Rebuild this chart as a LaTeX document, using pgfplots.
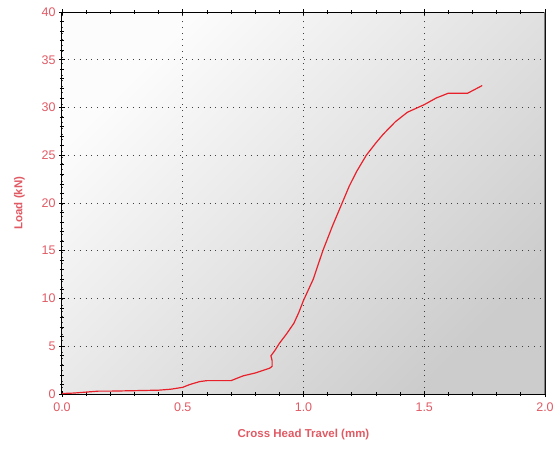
\documentclass[border=0pt]{standalone}
\usepackage{pgfplots}
\pgfplotsset{compat=1.18}
\usepackage{fontspec}
\setmainfont{Liberation Sans}
\definecolor{lblred}{HTML}{E05A64}
\definecolor{curve}{HTML}{E8202A}
\begin{document}
\begin{tikzpicture}[x=1pt,y=1pt]
\path[use as bounding box] (0,0) rectangle (557,448);
\begin{axis}[
	at={(62pt,54pt)},
	anchor=south west,
	scale only axis,
	width=483pt,
	height=382pt,
	xmin=0, xmax=2,
	ymin=0, ymax=40,
	xtick={0,0.5,...,2},
	ytick={0,5,...,40},
	minor x tick num=4,
	minor y tick num=4,
	xticklabels={0.0,0.5,1.0,1.5,2.0},
	ticklabel style={font=\fontsize{12.5}{14}\selectfont, text=lblred},
	xticklabel style={yshift=-2pt},
	/pgf/number format/assume math mode=true,
	tick style={black, line width=0.8pt},
	major tick length=6pt,
	minor tick length=4pt,
	xtick pos=both,
	ytick pos=left,
	tick align=center,
	grid=major,
	major grid style={black!75, line width=0.9pt, dash pattern=on 0.9pt off 5pt},
	axis line style={black, line width=1pt},
	axis background/.style={shade, top color=white!99!black, bottom color=white!80!black, shading angle=45},
	xlabel={\textbf{Cross Head Travel (mm)}},
	ylabel={\textbf{Load (kN)}},
	label style={font=\fontsize{11.5}{13}\selectfont, text=lblred},
	xlabel style={yshift=-11pt},
	ylabel style={yshift=10pt},
]
\addplot[curve, line width=1.2pt] coordinates {
(0,0.05) (0.05,0.1) (0.1,0.2) (0.15,0.3) (0.2,0.3) (0.4,0.4) (0.45,0.5)
(0.5,0.7) (0.53,1.0) (0.57,1.3) (0.6,1.4) (0.7,1.4) (0.75,1.9) (0.8,2.2)
(0.86,2.7) (0.87,2.9) (0.87,3.5) (0.865,4.0) (0.88,4.5) (0.9,5.3)
(0.93,6.3) (0.96,7.4) (0.98,8.5) (1.0,9.8) (1.04,12) (1.08,15)
(1.12,17.6) (1.16,20) (1.19,21.8) (1.22,23.3) (1.26,25) (1.3,26.3)
(1.33,27.2) (1.38,28.5) (1.43,29.5) (1.5,30.3) (1.55,31) (1.6,31.5)
(1.68,31.5) (1.74,32.3)
};
\draw[gray, line width=1.2pt] (axis cs:2,0) -- (axis cs:2,40);
\end{axis}
\end{tikzpicture}
\end{document}
